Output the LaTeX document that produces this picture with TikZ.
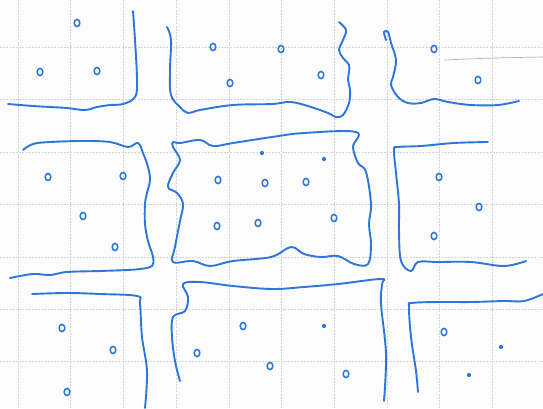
\documentclass[tikz,border=0pt]{standalone}
\definecolor{pen}{RGB}{45,118,218}
\definecolor{gridc}{RGB}{212,212,212}
\definecolor{paper}{RGB}{252,252,252}
\tikzset{
  inkline/.style={draw=pen,line width=1.9pt,line cap=round,line join=round},
  gridline/.style={draw=gridc,line width=0.6pt,dash pattern=on 2pt off 1.2pt},
  ring/.style={draw=pen,line width=1.5pt},
  speck/.style={fill=pen}
}
\begin{document}
\begin{tikzpicture}[x=1pt,y=-1pt]
\fill[paper] (0,0) rectangle (543,408);
\useasboundingbox (0,0) rectangle (543,408);
% grid
\foreach \k in {0,...,9} {\draw[gridline] ({18+52.7*\k},0) -- ({18+52.7*\k},408);}
\foreach \k in {0,...,7} {\draw[gridline] (0,{47+52.45*\k}) -- (543,{47+52.45*\k});}
% faint pencil stroke
\draw[draw=gridc!85!black,line width=0.7pt] (444,60) .. controls (490,58) .. (543,57);
% blocks
\draw[inkline] plot[smooth,tension=0.6] coordinates {(133,11) (135,40) (137,80) (135,97) (123,104) (110,105) (97,107) (85,110) (67,108) (50,107) (33,106) (8,104)};
\draw[inkline] plot[smooth,tension=0.6] coordinates {(167,27) (171,40) (170,70) (171,95) (180,107) (188,113) (200,110) (233,105) (272,104) (291,102) (311,107) (328,113) (336,117) (343,115) (349,103) (350,90) (348,80) (349,72) (349,65) (343,58) (339,50) (343,40) (346,30) (339,22)};
\draw[inkline] plot[smooth,tension=0.6] coordinates {(386,40) (384,32) (388,32) (391,43) (396,60) (393,77) (391,85) (398,97) (408,103) (421,103) (434,99) (448,102) (471,105) (498,105) (519,101)};
\draw[inkline] plot[smooth,tension=0.6] coordinates {(23,150) (33,144) (50,142) (83,141) (110,142) (128,147) (138,143) (143,153) (148,167) (150,180) (147,193) (145,204) (145,224) (148,241) (153,257) (152,266) (140,269) (127,270) (100,271) (67,272) (50,275) (33,274) (10,278)};
\draw[inkline] plot[smooth cycle,tension=0.6] coordinates {(173,142) (180,143) (200,140) (213,146) (233,143) (272,137) (304,133) (356,132) (353,147) (358,163) (366,172) (371,204) (369,224) (371,244) (368,264) (354,264) (338,256) (321,257) (304,254) (291,247) (271,257) (233,261) (210,266) (193,261) (173,262) (175,247) (180,221) (183,204) (177,193) (168,187) (173,173) (180,160) (173,147)};
\draw[inkline] plot[smooth,tension=0.6] coordinates {(488,142) (454,143) (421,146) (398,147) (394,150) (396,173) (399,204) (399,231) (401,261) (411,271) (418,262) (438,262) (471,262) (504,266) (526,261)};
\draw[inkline] plot[smooth,tension=0.6] coordinates {(32,294) (67,293) (100,294) (137,296) (140,304) (142,337) (147,371) (145,408)};
\draw[inkline] plot[smooth,tension=0.6] coordinates {(180,381) (175,361) (172,337) (173,317) (185,311) (188,297) (183,284) (200,282) (233,286) (272,289) (304,287) (338,284) (381,279) (382,284) (381,304) (386,354) (384,401)};
\draw[inkline] plot[smooth,tension=0.6] coordinates {(418,392) (416,371) (411,337) (409,307) (412,303) (438,302) (471,302) (504,301) (524,301) (543,294)};
% small circles
\foreach \p in {(77,23),(40,72),(97,71),(213,47),(281,49),(230,83),(321,75),(434,49),(478,80),
  (48,177),(123,176),(83,216),(115,247),(218,180),(265,183),(306,182),(217,226),(258,223),(334,218),
  (439,177),(479,207),(434,236),(62,328),(113,350),(67,392),(197,353),(243,326),(270,366),(346,374),(444,332)}
  {\draw[ring] \p ellipse [x radius=2.8, y radius=3.6];}
% tiny dots
\foreach \p in {(262,153),(324,159),(324,326),(469,375),(501,347)}
  {\fill[speck] \p circle [radius=2.1];}
\end{tikzpicture}
\end{document}
